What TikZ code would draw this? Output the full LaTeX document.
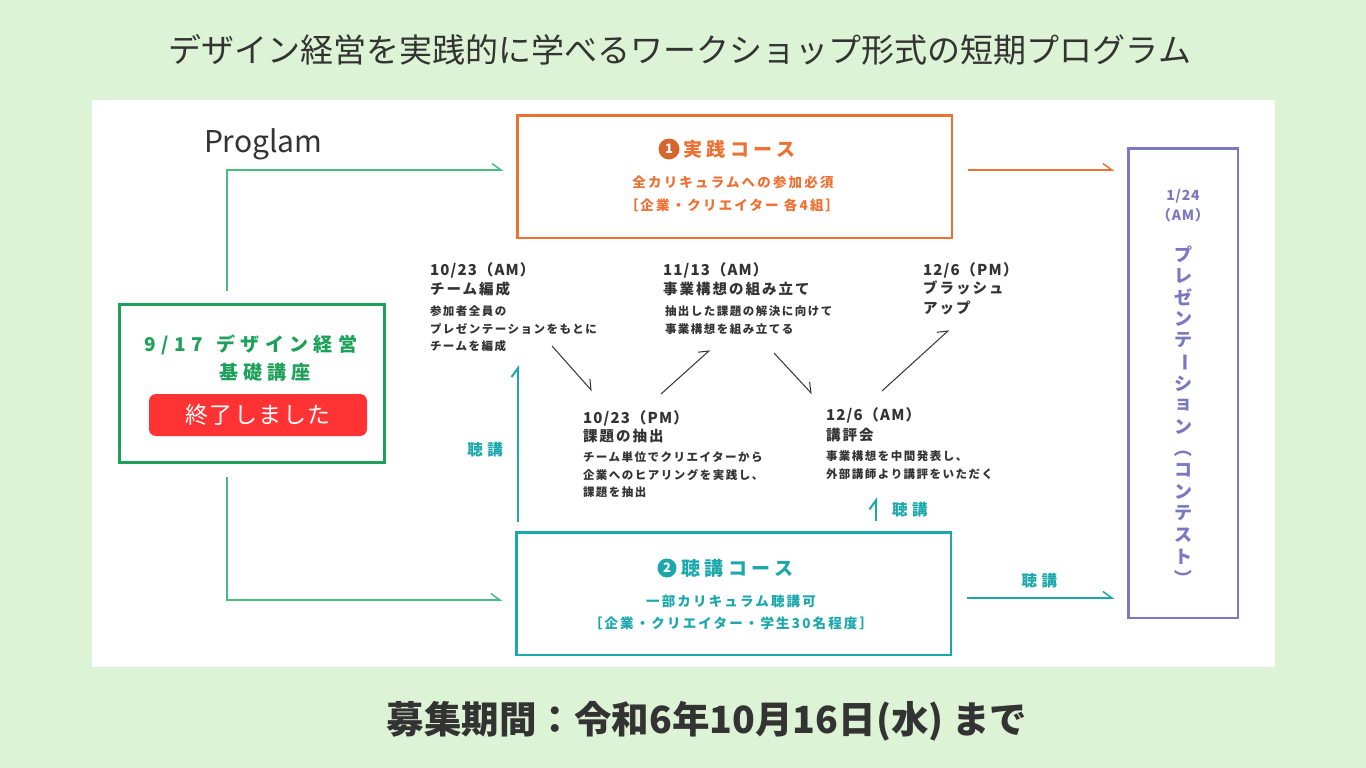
\documentclass[tikz,border=0pt]{standalone}
\usepackage{fontspec}
\setmainfont{Noto Sans CJK JP}
\usetikzlibrary{arrows.meta,positioning}
\definecolor{bgGreen}{RGB}{221,243,213}
\definecolor{ink}{RGB}{51,51,51}
\definecolor{basicGreen}{RGB}{28,160,90}
\definecolor{linkGreen}{RGB}{70,190,128}
\definecolor{jissenOrange}{RGB}{238,113,52}
\definecolor{choukouTeal}{RGB}{26,168,172}
\definecolor{presPurple}{RGB}{122,120,192}
\definecolor{doneRed}{RGB}{255,51,51}
\newcommand{\ls}[1]{\addfontfeature{LetterSpace=#1}}

\begin{document}
\begin{tikzpicture}[x=1pt,y=-1pt,
    every node/.style={inner sep=0pt,outer sep=0pt},
    box/.style={draw,line width=2.5pt,fill=white},
    harp/.style={-{Straight Barb[harpoon,length=9pt,width=13pt]}},
    datetxt/.style={anchor=west,text=ink,font=\fontsize{15}{15}\selectfont\bfseries\ls{8}},
    headtxt/.style={anchor=west,align=left,text=ink,font=\fontsize{14.5}{20}\selectfont\bfseries\ls{14}},
    desctxt/.style={anchor=west,align=left,text=ink,font=\fontsize{11.5}{17.5}\selectfont\bfseries\ls{13}},
    coursetxt/.style={font=\fontsize{19}{19}\selectfont\bfseries\ls{23}},
    infotxt/.style={font=\fontsize{13.5}{13.5}\selectfont\bfseries\ls{16}},
    numdot/.style={circle,minimum size=21pt,text=white,font=\fontsize{13}{13}\selectfont\bfseries},
    choukoutxt/.style={text=choukouTeal,font=\fontsize{15.5}{15.5}\selectfont\bfseries\ls{30}},
  ]
    \fill[bgGreen] (0,0) rectangle (1366,768);
    \useasboundingbox (0,0) rectangle (1366,768);
    \fill[white] (92,100) rectangle (1275,667);

    % Title and deadline
    \node[text=ink,font=\fontsize{33}{33}\selectfont] (title) at (680,50) {デザイン経営を実践的に学べるワークショップ形式の短期プログラム};
    \node[text=ink,font=\fontsize{37.5}{37.5}\selectfont\bfseries] (deadline) at (707,721) {募集期間：令和6年10月16日(水) まで};
    \node[anchor=west,text=ink,font=\fontsize{30}{30}\selectfont] (proglam) at (204,144) {Proglam};

    % 9/17 basic lecture
    \node[box,draw=basicGreen,line width=3pt,minimum width=265pt,minimum height=158pt] (lbox) at (252,383.5) {};
    \node[text=basicGreen,font=\fontsize{19}{19}\selectfont\bfseries\ls{28}] (lbtitle) at (251,345) {9/17\hspace{14pt}デザイン経営};
    \node[text=basicGreen,font=\fontsize{19}{19}\selectfont\bfseries\ls{28}] (lbsub) at (265,372) {基礎講座};
    \node[fill=doneRed,rounded corners=7pt,minimum width=218pt,minimum height=42pt,text=white,font=\fontsize{23}{23}\selectfont\ls{6}] (done) at (258,415) {終了しました};

    % Course 1
    \node[box,draw=jissenOrange,minimum width=434.5pt,minimum height=122.5pt] (jissen) at (734.5,176.5) {};
    \node[numdot,fill=jissenOrange!90!black] (no1) at (669,149) {1};
    \node[coursetxt,text=jissenOrange,right=4pt of no1] (jtitle) {実践コース};
    \node[infotxt,text=jissenOrange] (jinfo1) at (733,182) {全カリキュラムへの参加必須};
    \node[infotxt,text=jissenOrange] (jinfo2) at (732,205) {［企業・クリエイター 各4組］};

    % Course 2
    \node[box,draw=choukouTeal,minimum width=434.5pt,minimum height=122.5pt] (choukou) at (733.5,593.5) {};
    \node[numdot,fill=choukouTeal,minimum size=19pt] (no2) at (667,568) {2};
    \node[coursetxt,text=choukouTeal,right=5pt of no2] (ctitle) {聴講コース};
    \node[infotxt,text=choukouTeal] (cinfo1) at (731,601) {一部カリキュラム聴講可};
    \node[infotxt,text=choukouTeal] (cinfo2) at (731,623) {［企業・クリエイター・学生30名程度］};

    % Presentation
    \node[box,draw=presPurple,minimum width=109.5pt,minimum height=469.5pt] (pres) at (1183,383) {};
    \node[text=presPurple,font=\fontsize{14}{14}\selectfont\bfseries\ls{6}] (pdate) at (1183,196) {1/24};
    \node[text=presPurple,font=\fontsize{14}{14}\selectfont\bfseries\ls{6}] (pam) at (1183,215) {（AM）};
    \foreach \c/\r [count=\i] in {プ/0,レ/0,ゼ/0,ン/0,テ/0,ー/1,シ/0,ョ/0,ン/0,（/1,コ/0,ン/0,テ/0,ス/0,ト/0,）/1}
        \node[text=presPurple,font=\fontsize{18}{18}\selectfont\bfseries,rotate=-90*\r] (pv\i) at (1183,{254+21.6*(\i-1)}) {\c};

    % Workshop steps
    \node[datetxt] (s1date) at (430,270) {10/23（AM）};
    \node[headtxt] (s1head) at (430,289) {チーム編成};
    \node[desctxt] (s1desc) at (430,329) {参加者全員の\\プレゼンテーションをもとに\\チームを編成};
    \node[datetxt] (s2date) at (583,418) {10/23（PM）};
    \node[headtxt] (s2head) at (583,436) {課題の抽出};
    \node[desctxt] (s2desc) at (583,475) {チーム単位でクリエイターから\\企業へのヒアリングを実践し、\\課題を抽出};
    \node[datetxt] (s3date) at (663,270) {11/13（AM）};
    \node[headtxt] (s3head) at (663,289) {事業構想の組み立て};
    \node[desctxt] (s3desc) at (665,320) {抽出した課題の解決に向けて\\事業構想を組み立てる};
    \node[datetxt] (s4date) at (923,270) {12/6（PM）};
    \node[headtxt] (s4head) at (923,298) {ブラッシュ\\アップ};
    \node[datetxt] (s5date) at (826,415) {12/6（AM）};
    \node[headtxt] (s5head) at (826,435) {講評会};
    \node[desctxt] (s5desc) at (826,465) {事業構想を中間発表し、\\外部講師より講評をいただく};

    % Flow between steps
    \coordinate (from1) at (552,346); \coordinate (to1) at (592,391);
    \coordinate (from2) at (661,394); \coordinate (to2) at (710,350);
    \coordinate (from3) at (774,353); \coordinate (to3) at (812,394);
    \coordinate (from4) at (882,391); \coordinate (to4) at (949,330);
    \foreach \i in {1,...,4}
        \draw[ink,line width=1pt,harp] (from\i) -- (to\i);

    % Connectors
    \draw[linkGreen,line width=1.5pt,harp] ([xshift=-25pt,yshift=14pt]lbox.north) |- ([xshift=-14pt,yshift=6.5pt]jissen.west);
    \draw[linkGreen,line width=1.5pt,harp] ([xshift=-25pt,yshift=-14pt]lbox.south) |- ([xshift=-14pt,yshift=-6.5pt]choukou.west);
    \draw[jissenOrange,line width=1.5pt,harp,shorten >=14pt] ([xshift=16pt,yshift=6.5pt]jissen.east) coordinate (oa) -- (oa -| pres.west);
    \draw[choukouTeal,line width=1.5pt,harp,shorten >=14pt] ([xshift=16pt,yshift=-4.5pt]choukou.east) coordinate (ta) -- (ta -| pres.west)
        node[pos=0.45,above=10pt,choukoutxt] (tlab) {聴講};
    \coordinate (tup) at (518,365);
    \draw[choukouTeal,line width=2pt,harp] ([xshift=-215.5pt,yshift=10pt]choukou.north) -- (tup)
        node[pos=0.46,left=15pt,choukoutxt] (ulab) {聴講};
    \draw[choukouTeal,line width=2pt,harp] ([xshift=142.5pt,yshift=11pt]choukou.north) -- ([xshift=142.5pt,yshift=35pt]choukou.north)
        node[midway,right=16pt,choukoutxt] (slab) {聴講};
\end{tikzpicture}
\end{document}
